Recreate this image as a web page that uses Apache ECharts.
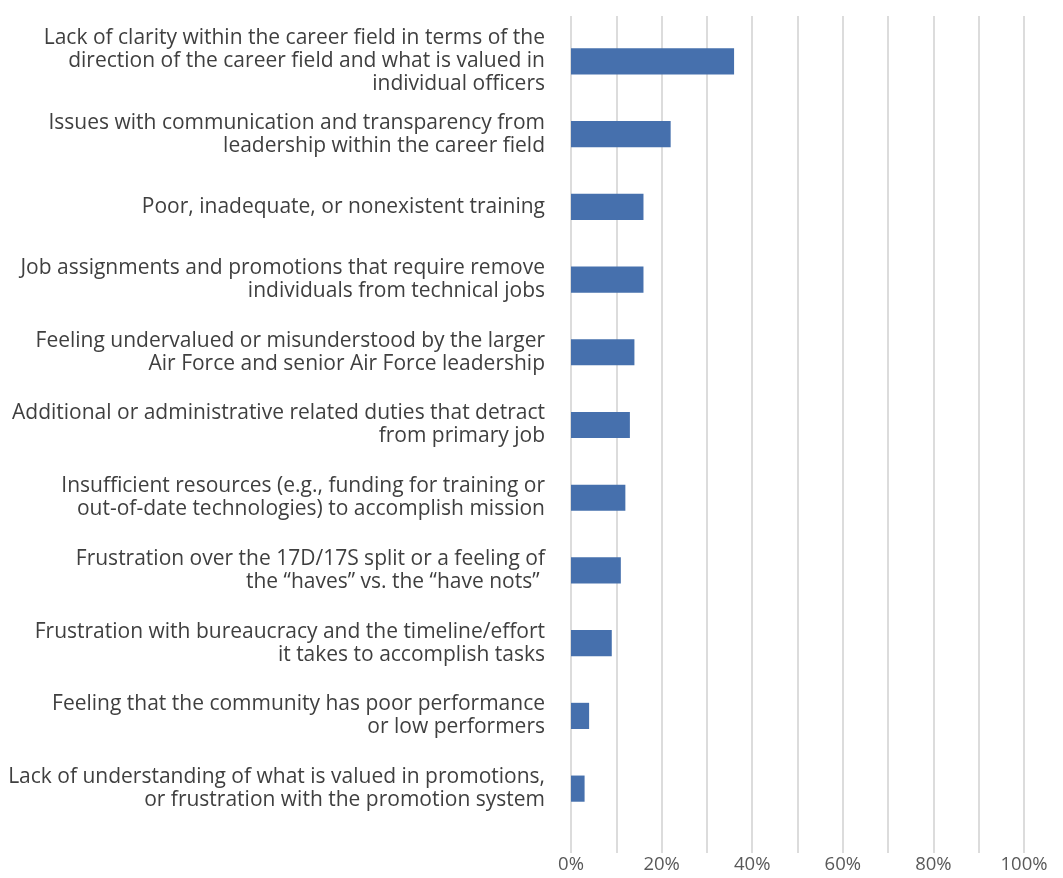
<!DOCTYPE html>
<html>
<head>
<meta charset="utf-8">
<script src="https://cdn.jsdelivr.net/npm/echarts@6/dist/echarts.min.js"></script>
<style>
  html, body { margin: 0; padding: 0; background: #ffffff; }
  #chart { width: 1063px; height: 878px; }
</style>
</head>
<body>
<div id="chart"></div>
<script>
// Reasons cited, top to bottom
const categories = [
  "Lack of clarity within the career field in terms of the\ndirection of the career field and what is valued in\nindividual officers",
  "Issues with communication and transparency from\nleadership within the career field",
  "Poor, inadequate, or nonexistent training",
  "Job assignments and promotions that require remove\nindividuals from technical jobs",
  "Feeling undervalued or misunderstood by the larger\nAir Force and senior Air Force leadership",
  "Additional or administrative related duties that detract\nfrom primary job",
  "Insufficient resources (e.g., funding for training or\nout-of-date technologies) to accomplish mission",
  "Frustration over the 17D/17S split or a feeling of\nthe \u201chaves\u201d vs. the \u201chave nots\u201d ",
  "Frustration with bureaucracy and the timeline/effort\nit takes to accomplish tasks",
  "Feeling that the community has poor performance\nor low performers",
  "Lack of understanding of what is valued in promotions,\nor frustration with the promotion system"
];

// Share of respondents (percent)
const shares = [36, 22, 16, 16, 14, 13, 12, 11, 9, 4, 3];

// Percent axis
const axisMin = 0;
const axisMax = 100;
const gridStep = 10;
const tickLabels = ["0%", "", "20%", "", "40%", "", "60%", "", "80%", "", "100%"];

const FONT = "'Open Sans', 'Noto Sans', sans-serif";

const chart = echarts.init(document.getElementById('chart'), null, { renderer: 'canvas' });

chart.setOption({
  backgroundColor: '#ffffff',
  animation: false,
  grid: [
    // gridline frame (taller than the category band)
    { left: 571, right: 39, top: 16, bottom: 25, containLabel: false },
    // bars
    { left: 571, right: 39, top: 25, bottom: 53, containLabel: false }
  ],
  xAxis: [
    {
      gridIndex: 0,
      type: 'value',
      min: axisMin,
      max: axisMax,
      interval: gridStep,
      axisLine: { show: false },
      axisTick: { show: false },
      splitLine: { show: true, lineStyle: { color: '#d4d4d4', width: 1.6 } },
      axisLabel: {
        margin: 2,
        color: '#595959',
        fontFamily: FONT,
        fontSize: 18.5,
        formatter: function (v) {
          return tickLabels[Math.round((v - axisMin) / gridStep)] || '';
        }
      }
    },
    {
      gridIndex: 1,
      type: 'value',
      min: axisMin,
      max: axisMax,
      show: false
    }
  ],
  yAxis: [
    {
      gridIndex: 0,
      type: 'value',
      show: false
    },
    {
      gridIndex: 1,
      type: 'category',
      inverse: true,
      data: categories,
      axisLine: { show: false },
      axisTick: { show: false },
      splitLine: { show: false },
      axisLabel: {
        margin: 26,
        color: '#3f3f3f',
        fontFamily: FONT,
        fontSize: 21,
        lineHeight: 23,
        align: 'right'
      }
    }
  ],
  series: [
    {
      type: 'bar',
      xAxisIndex: 1,
      yAxisIndex: 1,
      data: shares,
      barWidth: '36%',
      itemStyle: { color: '#4670ad' },
      silent: true
    }
  ]
});
</script>
</body>
</html>
